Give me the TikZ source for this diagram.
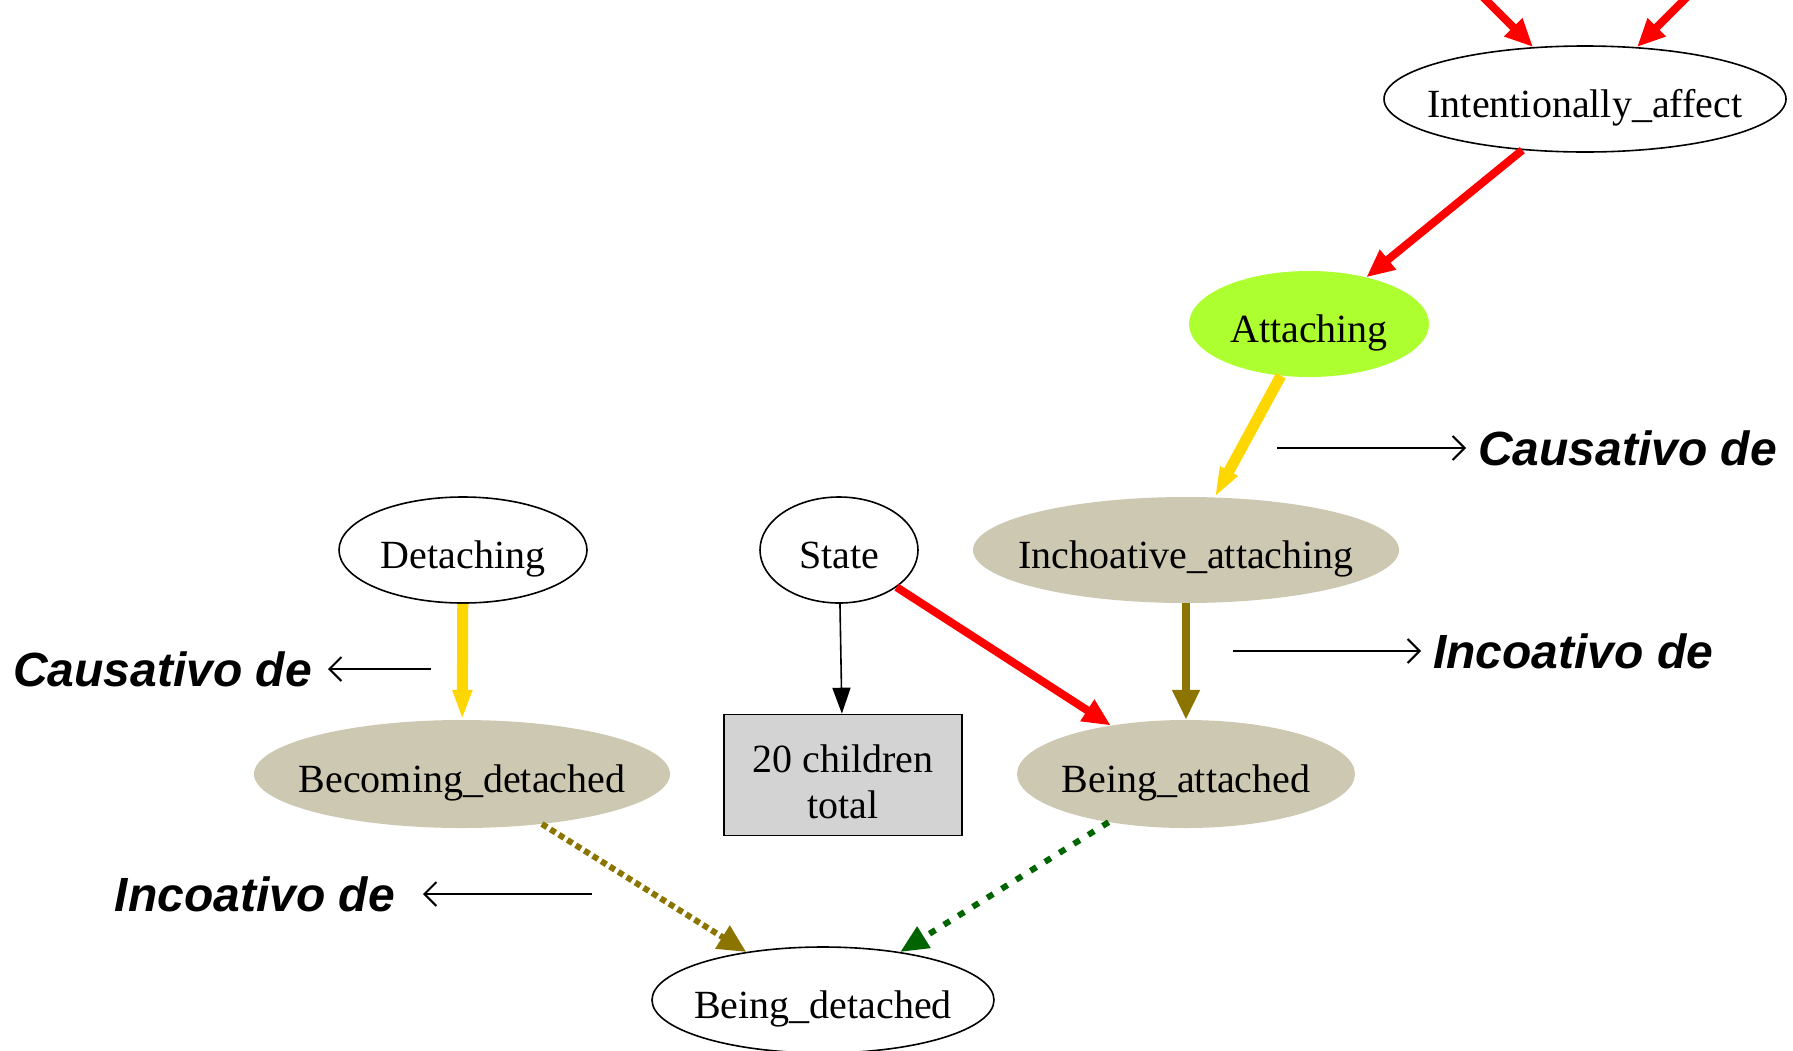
\documentclass[tikz,border=0pt]{standalone}
\usepackage{fontspec}
\setmainfont{Liberation Serif}
\newfontfamily\labfont{Liberation Sans}
\usetikzlibrary{shapes.geometric,arrows.meta}
\definecolor{gyellow}{HTML}{ADFF2F}
\definecolor{csilk}{HTML}{CDC8B1}
\definecolor{goldy}{HTML}{FFD700}
\definecolor{olive4}{HTML}{8B7500}
\definecolor{dgreen}{HTML}{006400}
\definecolor{lgray}{HTML}{D3D3D3}
\newcommand{\ftxt}[1]{\raisebox{-18pt}[0pt][0pt]{\makebox[0pt][c]{#1}}}
\begin{document}
\begin{tikzpicture}[x=1pt,y=-1pt,
  frame/.style={ellipse,inner sep=0pt,font=\fontsize{40}{46}\selectfont},
  plainframe/.style={frame,draw=black,line width=1.6pt,fill=white},
  attframe/.style={frame,fill=gyellow},
  silkframe/.style={frame,fill=csilk},
  countbox/.style={rectangle,draw=black,line width=1.6pt,fill=lgray,inner sep=0pt,
    font=\fontsize{40}{46}\selectfont},
  redrel/.style={draw=red,line width=8pt,-{Triangle[length=28pt,width=24pt]}},
  yelrel/.style={draw=goldy,line width=11pt,-{Triangle[length=30pt,width=18pt]}},
  olrel/.style={draw=olive4,line width=8pt,-{Triangle[length=30pt,width=26pt]}},
  oldot/.style={draw=olive4,line width=6pt,dash pattern=on 6pt off 4pt,-{Triangle[length=28pt,width=26pt]}},
  grdot/.style={draw=dgreen,line width=6pt,dash pattern=on 7pt off 10pt,-{Triangle[length=28pt,width=24pt]}},
  blkrel/.style={draw=black,line width=1.6pt,-{Triangle[length=26pt,width=18pt]}},
  lbl/.style={font=\labfont\bfseries\itshape\fontsize{48}{56}\selectfont,inner ysep=0pt},
  lblarrow/.style={draw=black,line width=2pt,-{Straight Barb[length=12pt,width=24pt,line width=2pt]}}
]
\useasboundingbox (0,0) rectangle (1793,1050);

% nodes
\node[plainframe,minimum width=402pt,minimum height=106pt] (ia) at (1585,99) {\ftxt{Intentionally\_affect}};
\node[attframe,minimum width=240pt,minimum height=106pt] (att) at (1309,324) {\ftxt{Attaching}};
\node[silkframe,minimum width=426pt,minimum height=106pt] (inch) at (1186,550) {\ftxt{Inchoative\_attaching}};
\node[plainframe,minimum width=158pt,minimum height=106pt] (st) at (839,550) {\ftxt{State}};
\node[plainframe,minimum width=248pt,minimum height=106pt] (det) at (463,550) {\ftxt{Detaching}};
\node[silkframe,minimum width=338pt,minimum height=108pt] (ba) at (1186,774) {\ftxt{Being\_attached}};
\node[silkframe,minimum width=416pt,minimum height=108pt] (bec) at (462,774) {\ftxt{Becoming\_detached}};
\node[plainframe,minimum width=342pt,minimum height=106pt] (bd) at (823,1000) {\ftxt{Being\_detached}};
\node[countbox,minimum width=238pt,minimum height=121pt] (box) at (843,775)
  {\ftxt{\begin{tabular}{@{}c@{}}20 children\\total\end{tabular}}};

% incoming from outside
\coordinate (in1) at (1481,-5);
\coordinate (in2) at (1689,-5);
\draw[redrel] (in1) -- (ia);
\draw[redrel] (in2) -- (ia);

% edges
\draw[redrel] (ia) -- (att);
\draw[yelrel] (att) -- (inch);
\draw[olrel] (inch) -- (ba);
\draw[redrel] (st) -- (ba);
\draw[blkrel] (st) -- (box);
\draw[yelrel] (det) -- (bec);
\draw[oldot] (bec) -- (bd);
\draw[grdot] (ba) -- (bd);

% labels
\node[lbl,anchor=west,inner xsep=12pt] (l1) at (1466,448) {Causativo de};
\coordinate (c1) at (1277,448);
\draw[lblarrow] (c1) -- (l1.west);

\node[lbl,anchor=west,inner xsep=12pt] (l2) at (1421,651) {Incoativo de};
\coordinate (c2) at (1233,651);
\draw[lblarrow] (c2) -- (l2.west);

\node[lbl,anchor=east,inner xsep=16pt] (l3) at (328,669) {Causativo de};
\coordinate (c3) at (431,669);
\draw[lblarrow] (c3) -- (l3.east);

\node[lbl,anchor=east,inner xsep=28pt] (l4) at (423,894) {Incoativo de};
\coordinate (c4) at (592,894);
\draw[lblarrow] (c4) -- (l4.east);
\end{tikzpicture}
\end{document}
